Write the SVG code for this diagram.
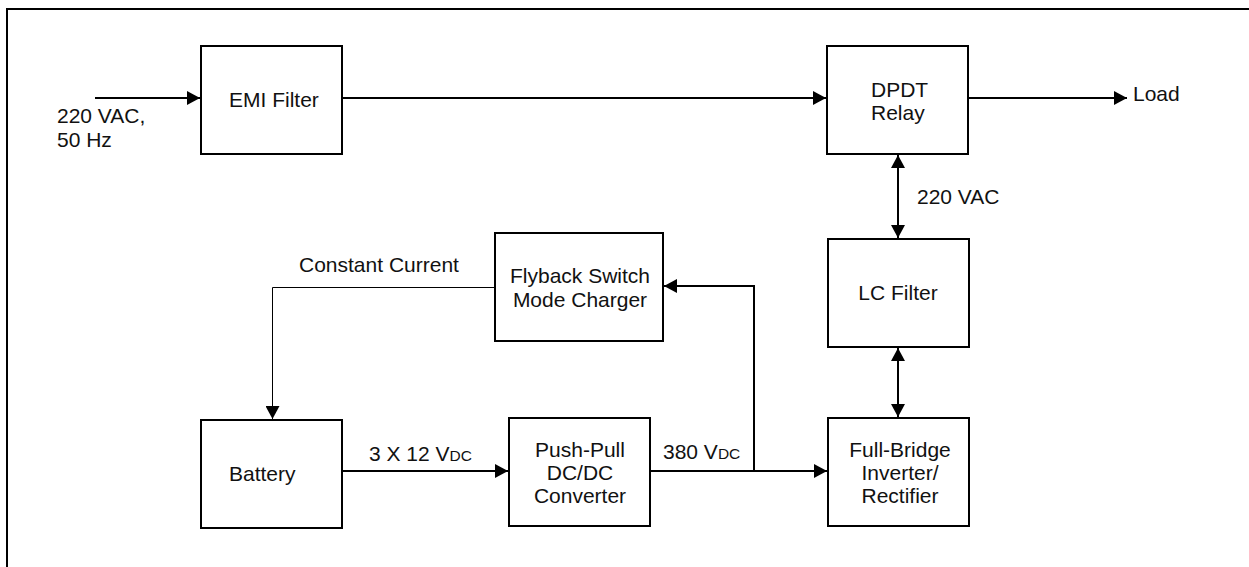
<svg xmlns="http://www.w3.org/2000/svg" width="1249" height="567" viewBox="0 0 1249 567">
<style>
.box{fill:#fff;stroke:#000;stroke-width:2}
.ln{fill:none;stroke:#000;stroke-width:2}
.thin{fill:none;stroke:#000;stroke-width:1}
text{font-family:"Liberation Sans",Arial,sans-serif;font-size:21px;fill:#111}
.c{text-anchor:middle}
.sub{font-size:15.5px}
</style>
<defs>
<marker id="ah" markerUnits="userSpaceOnUse" markerWidth="14" markerHeight="14" refX="13" refY="7" orient="auto-start-reverse">
<path d="M0,0 L13,7 L0,14 z" fill="#000"/>
</marker>
</defs>
<rect width="1249" height="567" fill="#fff"/>
<path class="ln" d="M7,567 V9 H1249"/>
<g id="connectors">
<path class="ln" d="M95,98 H200" marker-end="url(#ah)"/>
<path class="ln" d="M342,98 H826" marker-end="url(#ah)"/>
<path class="ln" d="M968,98 H1127" marker-end="url(#ah)"/>
<path class="ln" d="M898,155 V238" marker-start="url(#ah)" marker-end="url(#ah)"/>
<path class="ln" d="M898,348 V417" marker-start="url(#ah)" marker-end="url(#ah)"/>
<path class="thin" d="M495,287.5 H272.5 V419" marker-end="url(#ah)"/>
<path class="ln" d="M342,471 H508" marker-end="url(#ah)"/>
<path class="ln" d="M650,471 H827" marker-end="url(#ah)"/>
<path class="ln" d="M754,471 V286 H664" marker-end="url(#ah)"/>
<text x="57" y="123">220 VAC,</text>
<text x="57" y="147">50 Hz</text>
<text x="1133" y="101">Load</text>
<text x="917" y="204">220 VAC</text>
<text x="299" y="272">Constant Current</text>
<text x="369" y="461">3 X 12 V<tspan class="sub">DC</tspan></text>
<text x="663" y="459">380 V<tspan class="sub">DC</tspan></text>
</g>
<g id="emi">
<rect class="box" x="201" y="46" width="141" height="108"/>
<text x="229" y="107">EMI Filter</text>
</g>
<g id="dpdt">
<rect class="box" x="827" y="46" width="141" height="108"/>
<text x="871" y="97">DPDT</text>
<text x="871" y="120">Relay</text>
</g>
<g id="lc">
<rect class="box" x="828" y="239" width="141" height="108"/>
<text class="c" x="898" y="300">LC Filter</text>
</g>
<g id="flyback">
<rect class="box" x="495" y="233" width="168" height="108"/>
<text class="c" x="580" y="283">Flyback Switch</text>
<text class="c" x="580" y="307">Mode Charger</text>
</g>
<g id="battery">
<rect class="box" x="201" y="420" width="141" height="108"/>
<text x="229" y="481">Battery</text>
</g>
<g id="pushpull">
<rect class="box" x="509" y="418" width="141" height="108"/>
<text class="c" x="580" y="457">Push-Pull</text>
<text class="c" x="580" y="480">DC/DC</text>
<text class="c" x="580" y="503">Converter</text>
</g>
<g id="fullbridge">
<rect class="box" x="828" y="418" width="141" height="108"/>
<text class="c" x="900" y="457">Full-Bridge</text>
<text class="c" x="900" y="480">Inverter/</text>
<text class="c" x="900" y="503">Rectifier</text>
</g>
</svg>
